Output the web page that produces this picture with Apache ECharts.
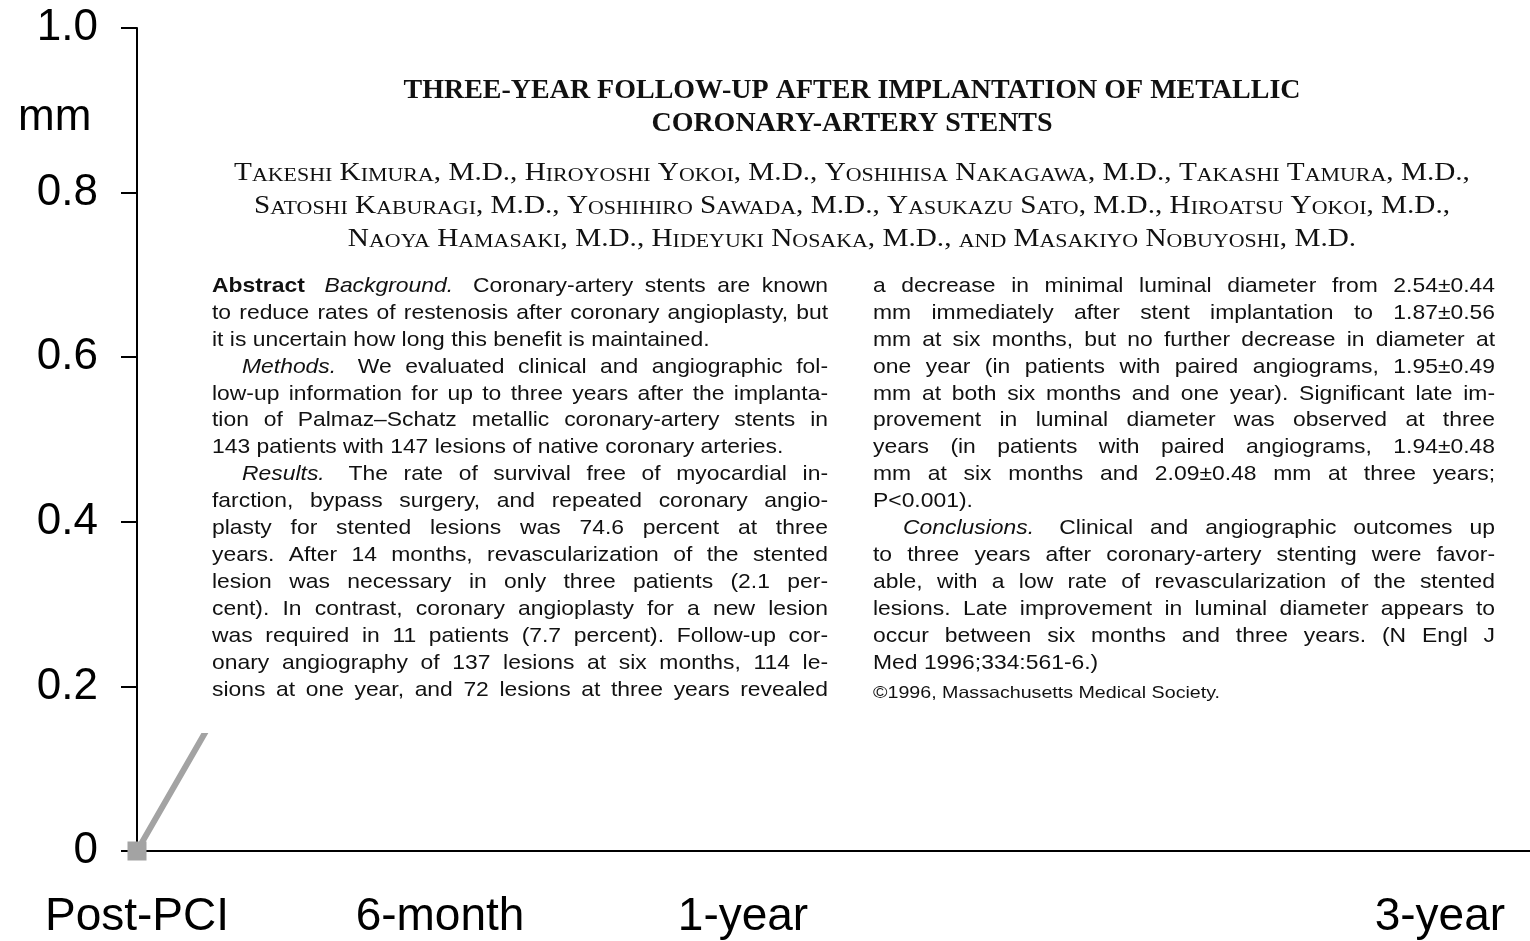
<!DOCTYPE html>
<html><head><meta charset="utf-8">
<script src="https://cdn.jsdelivr.net/npm/echarts@6/dist/echarts.min.js"></script>
<style>html,body{margin:0;padding:0;background:#fff}#c{width:1530px;height:941px}</style>
</head><body><div id="c"></div>
<script>
// ---------- data ----------
const timepoints = ['Post-PCI', '6-month', '1-year', '3-year'];
const timeX = [0, 1, 2, 4.3];
const lossValues = [0, 0.64, 0.64, 0.49];
const yTickValues = [0, 0.2, 0.4, 0.6, 0.8, 1.0];
const yUnit = 'mm';

const titleLines = [
  'THREE-YEAR FOLLOW-UP AFTER IMPLANTATION OF METALLIC',
  'CORONARY-ARTERY STENTS'
];
const authorLines = [
  'Takeshi Kimura, M.D., Hiroyoshi Yokoi, M.D., Yoshihisa Nakagawa, M.D., Takashi Tamura, M.D.,',
  'Satoshi Kaburagi, M.D., Yoshihiro Sawada, M.D., Yasukazu Sato, M.D., Hiroatsu Yokoi, M.D.,',
  'Naoya Hamasaki, M.D., Hideyuki Nosaka, M.D., and Masakiyo Nobuyoshi, M.D.'
];
const abstractLeft = [
  ['Abstract Background. Coronary-artery stents are known',
   'to reduce rates of restenosis after coronary angioplasty, but',
   'it is uncertain how long this benefit is maintained.'],
  ['Methods. We evaluated clinical and angiographic fol-',
   'low-up information for up to three years after the implanta-',
   'tion of Palmaz\u2013Schatz metallic coronary-artery stents in',
   '143 patients with 147 lesions of native coronary arteries.'],
  ['Results. The rate of survival free of myocardial in-',
   'farction, bypass surgery, and repeated coronary angio-',
   'plasty for stented lesions was 74.6 percent at three',
   'years. After 14 months, revascularization of the stented',
   'lesion was necessary in only three patients (2.1 per-',
   'cent). In contrast, coronary angioplasty for a new lesion',
   'was required in 11 patients (7.7 percent). Follow-up cor-',
   'onary angiography of 137 lesions at six months, 114 le-',
   'sions at one year, and 72 lesions at three years revealed']
];
const abstractRight = [
  ['a decrease in minimal luminal diameter from 2.54\u00b10.44',
   'mm immediately after stent implantation to 1.87\u00b10.56',
   'mm at six months, but no further decrease in diameter at',
   'one year (in patients with paired angiograms, 1.95\u00b10.49',
   'mm at both six months and one year). Significant late im-',
   'provement in luminal diameter was observed at three',
   'years (in patients with paired angiograms, 1.94\u00b10.48',
   'mm at six months and 2.09\u00b10.48 mm at three years;',
   'P<0.001).'],
  ['Conclusions. Clinical and angiographic outcomes up',
   'to three years after coronary-artery stenting were favor-',
   'able, with a low rate of revascularization of the stented',
   'lesions. Late improvement in luminal diameter appears to',
   'occur between six months and three years. (N Engl J',
   'Med 1996;334:561-6.)']
];
const copyrightLine = '\u00a91996, Massachusetts Medical Society.';
const boldWords = ['Abstract'];
const italicWords = ['Background.', 'Methods.', 'Results.', 'Conclusions.'];

// ---------- layout helpers ----------
const SANS = '"Liberation Sans", Arial, Helvetica, sans-serif';
const SERIF = '"Liberation Serif", "Times New Roman", serif';
const mctx = document.createElement('canvas').getContext('2d');
function measure(t, style, weight, size, fam) {
  mctx.font = style + ' ' + weight + ' ' + size + 'px ' + fam;
  return mctx.measureText(t).width;
}
const FS = 21, LH = 26.93, HS = 1.09, Z = 100;

function wordStyle(w) {
  if (boldWords.indexOf(w) >= 0) return { fontStyle: 'normal', fontWeight: 'bold' };
  if (italicWords.indexOf(w) >= 0) return { fontStyle: 'italic', fontWeight: 'normal' };
  return { fontStyle: 'normal', fontWeight: 'normal' };
}

function buildColumn(paragraphs, left, width, top, continued) {
  const els = [];
  let li = 0;
  const space = measure(' ', 'normal', 'normal', FS, SANS);
  paragraphs.forEach(function (para, pi) {
    para.forEach(function (line, k) {
      const indent = (pi > 0 && k === 0) ? 30 : 0;
      const isLast = (k === para.length - 1) && !(continued && pi === paragraphs.length - 1);
      const words = line.split(' ');
      const ws = words.map(function (w) {
        const st = wordStyle(w);
        return { w: w, st: st, width: measure(w, st.fontStyle, st.fontWeight, FS, SANS),
                 extra: (boldWords.indexOf(w) >= 0 || italicWords.indexOf(w) >= 0) ? space * 1.3 : 0 };
      });
      const n = ws.length - 1;
      const sumW = ws.reduce(function (a, o) { return a + o.width; }, 0);
      const sumExtra = ws.slice(0, -1).reduce(function (a, o) { return a + o.extra; }, 0);
      const avail = (width - indent) / HS;
      let gap = space, scale = HS;
      if (!isLast && n > 0) {
        gap = (avail - sumW - sumExtra) / n;
        if (gap < space * 0.6) {
          gap = space * 0.6;
          scale = (width - indent) / (sumW + sumExtra + gap * n);
        }
      } else {
        const nat = sumW + sumExtra + space * n;
        if (nat > avail) scale = (width - indent) / nat;
      }
      const children = [];
      let x = 0;
      ws.forEach(function (o) {
        children.push({
          type: 'text', x: x, y: 0, z: Z + 2,
          style: { text: o.w, fontSize: FS, fontFamily: SANS, fontStyle: o.st.fontStyle,
                   fontWeight: o.st.fontWeight, fill: '#111', verticalAlign: 'middle', align: 'left' }
        });
        x += o.width + gap + o.extra;
      });
      els.push({ type: 'group', x: left + indent, y: top + li * LH, scaleX: scale, z: Z + 2, children: children });
      li++;
    });
  });
  return els;
}

function smallCapsRich(s) {
  let out = '';
  let i = 0;
  while (i < s.length) {
    const lower = /[a-z]/.test(s[i]);
    let j = i;
    while (j < s.length && (/[a-z]/.test(s[j]) === lower)) j++;
    const seg = s.slice(i, j);
    out += lower ? '{s|' + seg.toUpperCase() + '}' : '{b|' + seg + '}';
    i = j;
  }
  return out;
}
function smallCapsWidth(s, big, small) {
  let w = 0;
  for (const ch of s) {
    if (/[a-z]/.test(ch)) w += measure(ch.toUpperCase(), 'normal', 'normal', small, SERIF);
    else w += measure(ch, 'normal', 'normal', big, SERIF);
  }
  return w;
}

const graphics = [];
// white panel of the pasted article page
graphics.push({ type: 'rect', shape: { x: 197, y: 40, width: 1315, height: 693 }, z: Z,
                style: { fill: '#ffffff' } });
// title
const TFS = 26.5;
const titleScale = 897 / measure(titleLines[0], 'normal', 'bold', TFS, SERIF);
titleLines.forEach(function (t, i) {
  graphics.push({ type: 'text', x: 852, y: 91 + i * 33, scaleX: titleScale, z: Z + 2,
    style: { text: t, fontSize: TFS, fontWeight: 'bold', fontFamily: SERIF, fill: '#111',
             align: 'center', verticalAlign: 'middle' } });
});
// authors (small caps)
const ABIG = 26, ASMALL = 19.5;
const authScale = 1240 / smallCapsWidth(authorLines[0], ABIG, ASMALL);
authorLines.forEach(function (t, i) {
  graphics.push({ type: 'text', x: 852, y: 172 + i * 33, scaleX: authScale, z: Z + 2,
    style: { text: smallCapsRich(t), fontFamily: SERIF, fill: '#111', align: 'center', verticalAlign: 'middle',
      rich: {
        b: { fontSize: ABIG, fontFamily: SERIF, fill: '#111', verticalAlign: 'bottom', lineHeight: 28 },
        s: { fontSize: ASMALL, fontFamily: SERIF, fill: '#111', verticalAlign: 'bottom', lineHeight: 28 }
      } } });
});
// abstract columns
buildColumn(abstractLeft, 212, 616, 286, true).forEach(function (e) { graphics.push(e); });
buildColumn(abstractRight, 873, 622, 286, false).forEach(function (e) { graphics.push(e); });
const CFS = 16.5;
const copyScale = 347 / measure(copyrightLine, 'normal', 'normal', CFS, SANS);
graphics.push({ type: 'text', x: 873, y: 693, scaleX: copyScale, z: Z + 2,
  style: { text: copyrightLine, fontSize: CFS, fontFamily: SANS, fill: '#111', verticalAlign: 'middle' } });
// y unit
graphics.push({ type: 'text', x: 18, y: 118, z: Z + 2,
  style: { text: yUnit, fontSize: 44, fontFamily: SANS, fill: '#000', verticalAlign: 'middle' } });

// ---------- chart ----------
const chart = echarts.init(document.getElementById('c'), null, { renderer: 'canvas' });
const PX_UNIT = 303;
chart.setOption({
  animation: false,
  backgroundColor: '#ffffff',
  grid: { left: 133, right: 0, top: 28, bottom: 90, containLabel: false },
  xAxis: {
    type: 'value',
    min: -4 / PX_UNIT,
    max: (1530 - 137) / PX_UNIT,
    splitLine: { show: false },
    axisTick: { show: false },
    axisLine: { show: true, onZero: false, lineStyle: { color: '#000', width: 2 } },
    axisLabel: {
      customValues: timeX,
      margin: 43,
      fontSize: 46,
      fontFamily: SANS,
      color: '#000',
      formatter: function (v) {
        const i = timeX.indexOf(v);
        return i >= 0 ? timepoints[i] : '';
      }
    }
  },
  yAxis: {
    type: 'value',
    min: 0, max: 1, interval: 0.2,
    splitLine: { show: false },
    axisLine: { show: true, lineStyle: { color: '#000', width: 2 } },
    axisTick: { show: true, length: 16, lineStyle: { color: '#000', width: 2 } },
    axisLabel: {
      margin: 35,
      fontSize: 44,
      fontFamily: SANS,
      color: '#000',
      formatter: function (v) {
        const i = yTickValues.findIndex(function (t) { return Math.abs(t - v) < 1e-9; });
        if (i < 0) return '';
        return yTickValues[i] === 0 ? '0' : yTickValues[i].toFixed(1);
      }
    }
  },
  series: [{
    type: 'line',
    data: timeX.map(function (x, i) { return [x, lossValues[i]]; }),
    symbol: 'rect',
    symbolSize: 19,
    showSymbol: true,
    lineStyle: { color: '#a3a3a3', width: 6 },
    itemStyle: { color: '#a3a3a3' },
    z: 2
  }],
  graphic: { elements: graphics }
});
</script>
</body></html>
